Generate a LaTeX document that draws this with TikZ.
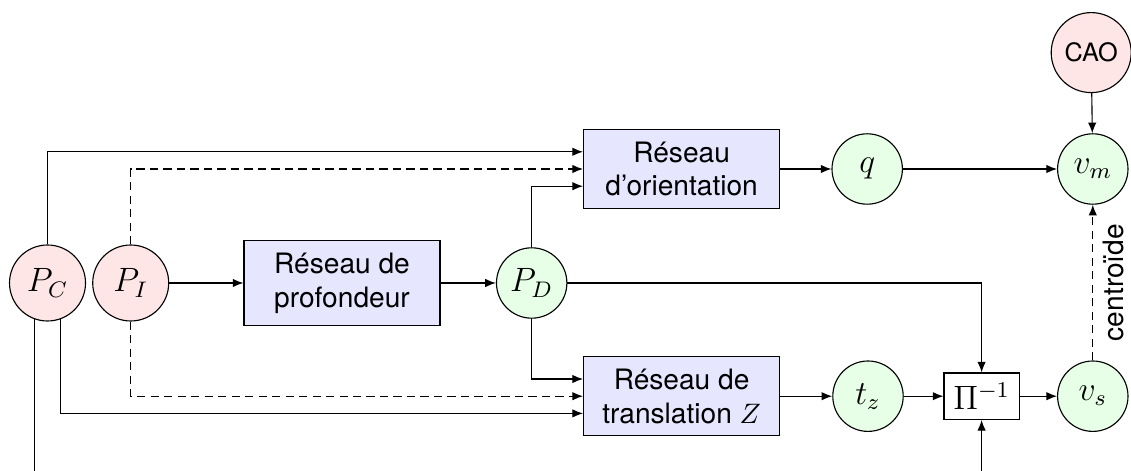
\documentclass[tikz,border=0pt]{standalone}
\usepackage{fontspec}
\setsansfont{TeX Gyre Heros}
\usetikzlibrary{arrows.meta,positioning}
\definecolor{pink}{HTML}{FFE6E6}
\definecolor{mint}{HTML}{E6FFE6}
\definecolor{lilac}{HTML}{E6E6FF}

\begin{document}
\begin{tikzpicture}[x=1cm,y=1cm,>={Latex[length=3.8pt,width=3pt]},line width=.4pt,every node/.style={font=\sffamily},src/.style={circle,draw,fill=pink,minimum size=.95cm,inner sep=0pt,font=\large},res/.style={circle,draw,fill=mint,minimum size=.88cm,inner sep=0pt,font=\large},net/.style={draw,fill=lilac,align=center,minimum width=2.45cm,inner ysep=1.5mm},skip/.style={dash pattern=on 3pt off 1.8pt}]
\path[use as bounding box] (0,0) rectangle (14.1375,5.8875);

\node[src] (pc) at (.594,2.35) {$P_C$};
\node[src] (pi) at (1.634,2.35) {$P_I$};
\node[net] (depth) at (4.275,2.35) {Réseau de\\profondeur};
\node[res] (pd) at (6.646,2.35) {$P_D$};
\node[net] (orient) at (8.52,3.775) {Réseau\\d'orientation};
\node[net] (trans) at (8.52,.935) {Réseau de\\translation $Z$};
\node[res] (q) at (10.84,3.775) {$q$};
\node[res] (tz) at (10.85,.935) {$t_z$};
\node[draw,fill=white,font=\large,minimum width=.94cm,minimum height=.58cm,inner sep=0pt] (proj) at (12.27,.935) {$\Pi^{-1}$};
\node[res] (vs) at (13.66,.935) {$v_s$};
\node[res] (vm) at (13.66,3.775) {$v_m$};
\node[src,minimum size=1cm,font=\sffamily\small] (cao) at (13.64,5.23) {CAO};
\draw[->] (pc.north) |- ([yshift=.215cm]orient.west);
\draw[->,skip] (pi.north) |- (orient.west);
\draw[->] (pd.north) |- ([yshift=-.215cm]orient.west);
\draw[->] (pd.south) |- ([yshift=.215cm]trans.west);
\draw[->,skip] (pi.south) |- (trans.west);
\draw[->] (pc.-70) |- ([yshift=-.215cm]trans.west);
\draw[->] (pi)--(depth);
\draw[->] (depth)--(pd);
\draw[->] (orient)--(q);
\draw[->] (q)--(vm);
\draw[->] (cao)--(vm);
\draw[->] (trans)--(tz);
\draw[->] (tz)--(proj);
\draw[->] (proj)--(vs);
\draw[->] (pd.east) -| (proj.north);
\draw[->] (pc.-110) -- ++(0,-2.6) -| (proj.south);
\draw[->,skip] (vs)--node[midway,sloped,below] {centroïde} (vm);

\end{tikzpicture}
\end{document}
